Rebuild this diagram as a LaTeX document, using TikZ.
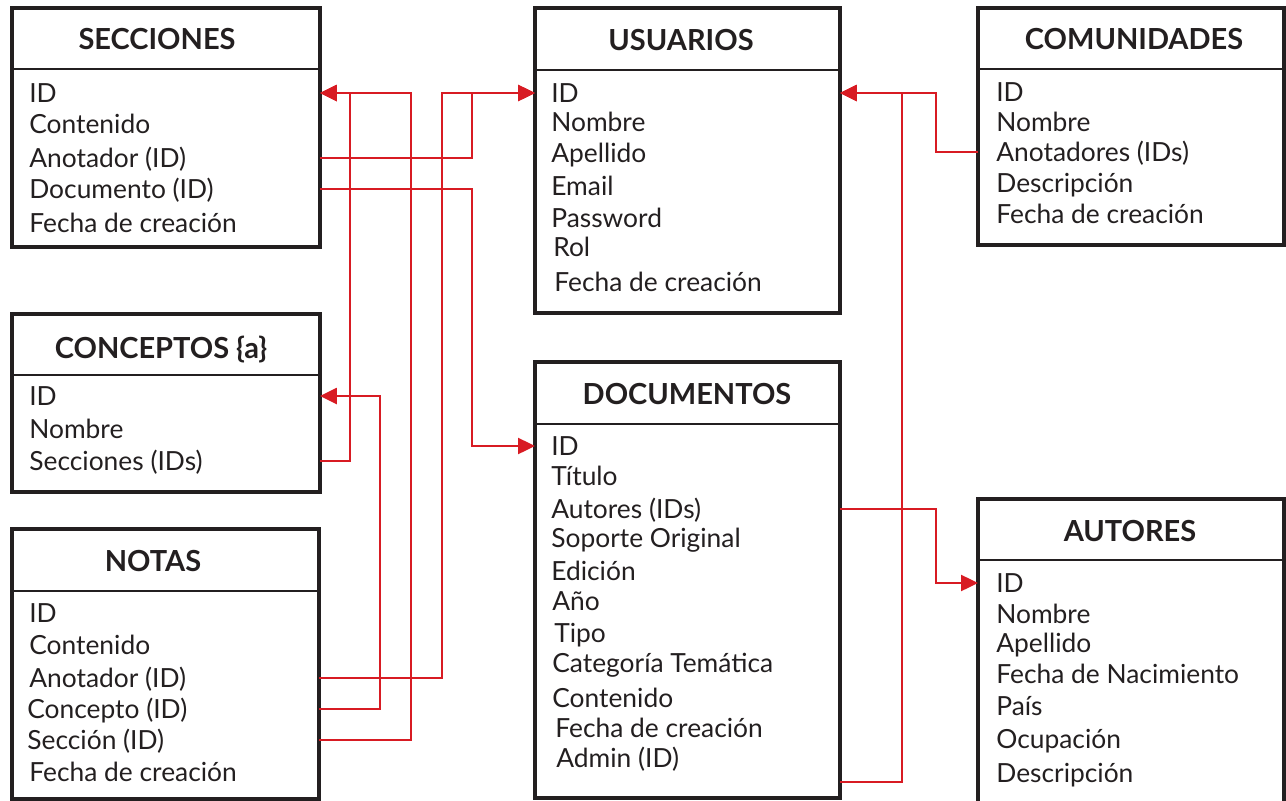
\documentclass[tikz,border=0pt]{standalone}
\usepackage{fontspec}
\setmainfont{Lato}
\usetikzlibrary{arrows.meta}
\definecolor{tinta}{RGB}{35,31,32}
\definecolor{rojo}{RGB}{216,27,35}

\begin{document}
\begin{tikzpicture}[x=0.02cm, y=-0.02cm,
  caja/.style={draw=tinta, line width=2.3pt, anchor=north west, inner sep=0pt, outer sep=0pt},
  titulo/.style={anchor=base, inner sep=0pt, text=tinta, font=\bfseries\fontsize{16.5}{19}\selectfont},
  campo/.style={anchor=base west, inner sep=0pt, text=tinta, text height=0.36cm, text depth=0pt, font=\fontsize{15}{18}\selectfont},
  sep/.style={draw=tinta, line width=1.3pt},
  rel/.style={draw=rojo, line width=1.4pt},
  flecha/.style={rel, -{Triangle[length=0.34cm, width=0.32cm]}}]
\useasboundingbox (0,0) rectangle (1286,801);

% tablas
\node[caja, minimum width=6.16cm, minimum height=4.78cm] (sec) at (12,8) {};
\draw[sep] (12,69) -- (320,69);
\node[titulo] (secT) at (157,50) {SECCIONES};
\node[campo] (sec1) at (29,102) {ID};
\node[campo] (sec2) at (29,133) {Contenido};
\node[campo] (sec3) at (29,167) {Anotador (ID)};
\node[campo] (sec4) at (29,198) {Documento (ID)};
\node[campo] (sec5) at (29,232) {Fecha de creación};

\node[caja, minimum width=6.16cm, minimum height=3.56cm] (con) at (12,314) {};
\draw[sep] (12,375) -- (320,375);
\node[titulo] (conT) at (161,358) {CONCEPTOS \{a\}};
\node[campo] (con1) at (29,405) {ID};
\node[campo] (con2) at (29,438) {Nombre};
\node[campo] (con3) at (29,470) {Secciones (IDs)};

\node[caja, minimum width=6.14cm, minimum height=5.40cm] (not) at (12,529) {};
\draw[sep] (12,591) -- (319,591);
\node[titulo] (notT) at (153,571) {NOTAS};
\node[campo] (not1) at (29,622) {ID};
\node[campo] (not2) at (29,654) {Contenido};
\node[campo] (not3) at (29,687) {Anotador (ID)};
\node[campo] (not4) at (27,718) {Concepto (ID)};
\node[campo] (not5) at (27,749) {Sección (ID)};
\node[campo] (not6) at (29,781) {Fecha de creación};

\node[caja, minimum width=6.10cm, minimum height=6.10cm] (usu) at (535,8) {};
\draw[sep] (535,70) -- (840,70);
\node[titulo] (usuT) at (681,51) {USUARIOS};
\node[campo] (usu1) at (551,102) {ID};
\node[campo] (usu2) at (551,131) {Nombre};
\node[campo] (usu3) at (551,162) {Apellido};
\node[campo] (usu4) at (551,195) {Email};
\node[campo] (usu5) at (551,227) {Password};
\node[campo] (usu6) at (553,256) {Rol};
\node[campo] (usu7) at (554,291) {Fecha de creación};

\node[caja, minimum width=6.10cm, minimum height=8.72cm] (doc) at (535,362) {};
\draw[sep] (535,424) -- (840,424);
\node[titulo] (docT) at (687,404) {DOCUMENTOS};
\node[campo] (doc1) at (551,455) {ID};
\node[campo] (doc2) at (551,485) {Título};
\node[campo] (doc3) at (551,518) {Autores (IDs)};
\node[campo] (doc4) at (551,547) {Soporte Original};
\node[campo] (doc5) at (551,580) {Edición};
\node[campo] (doc6) at (552,610) {Año};
\node[campo] (doc7) at (554,642) {Tipo};
\node[campo] (doc8) at (552,672) {Categoría Temática};
\node[campo] (doc9) at (552,707) {Contenido};
\node[campo] (doc10) at (555,737) {Fecha de creación};
\node[campo] (doc11) at (556,767) {Admin (ID)};

\node[caja, minimum width=6.12cm, minimum height=4.74cm] (com) at (978,8) {};
\draw[sep] (978,69) -- (1284,69);
\node[titulo] (comT) at (1134,50) {COMUNIDADES};
\node[campo] (com1) at (996,101) {ID};
\node[campo] (com2) at (996,131) {Nombre};
\node[campo] (com3) at (996,161) {Anotadores (IDs)};
\node[campo] (com4) at (996,192) {Descripción};
\node[campo] (com5) at (996,223) {Fecha de creación};

\node[caja, minimum width=6.12cm, minimum height=6.20cm] (aut) at (978,499) {};
\draw[sep] (978,560) -- (1284,560);
\node[titulo] (autT) at (1130,541) {AUTORES};
\node[campo] (aut1) at (996,592) {ID};
\node[campo] (aut2) at (996,623) {Nombre};
\node[campo] (aut3) at (996,652) {Apellido};
\node[campo] (aut4) at (996,683) {Fecha de Nacimiento};
\node[campo] (aut5) at (996,715) {País};
\node[campo] (aut6) at (996,748) {Ocupación};
\node[campo] (aut7) at (996,782) {Descripción};

% relaciones
\coordinate (b1) at (350,0);
\coordinate (b2) at (380,0);
\coordinate (b3) at (411,0);
\coordinate (b4) at (442,0);
\coordinate (b5) at (472,0);
\coordinate (b6) at (902,0);
\coordinate (b7) at (936,0);

\draw[flecha] (con.east |- con3) -| (b1 |- sec1) -- (sec.east |- sec1);
\draw[flecha] (not.east |- not5) -| (b3 |- sec1) -- (sec.east |- sec1);
\draw[flecha] (not.east |- not4) -| (b2 |- con1) -- (con.east |- con1);
\draw[flecha] (sec.east |- sec3) -| (b5 |- usu1) -- (usu.west |- usu1);
\draw[flecha] (not.east |- not3) -| (b4 |- usu1) -- (usu.west |- usu1);
\draw[flecha] (sec.east |- sec4) -| (b5 |- doc1) -- (doc.west |- doc1);
\draw[flecha] (com.west |- com3) -| (b7 |- usu1) -- (usu.east |- usu1);
\draw[flecha] ([yshift=0.32cm]doc.south east) -| (b6 |- usu1) -- (usu.east |- usu1);
\draw[flecha] (doc.east |- doc3) -| (b7 |- aut1) -- (aut.west |- aut1);
\end{tikzpicture}
\end{document}
